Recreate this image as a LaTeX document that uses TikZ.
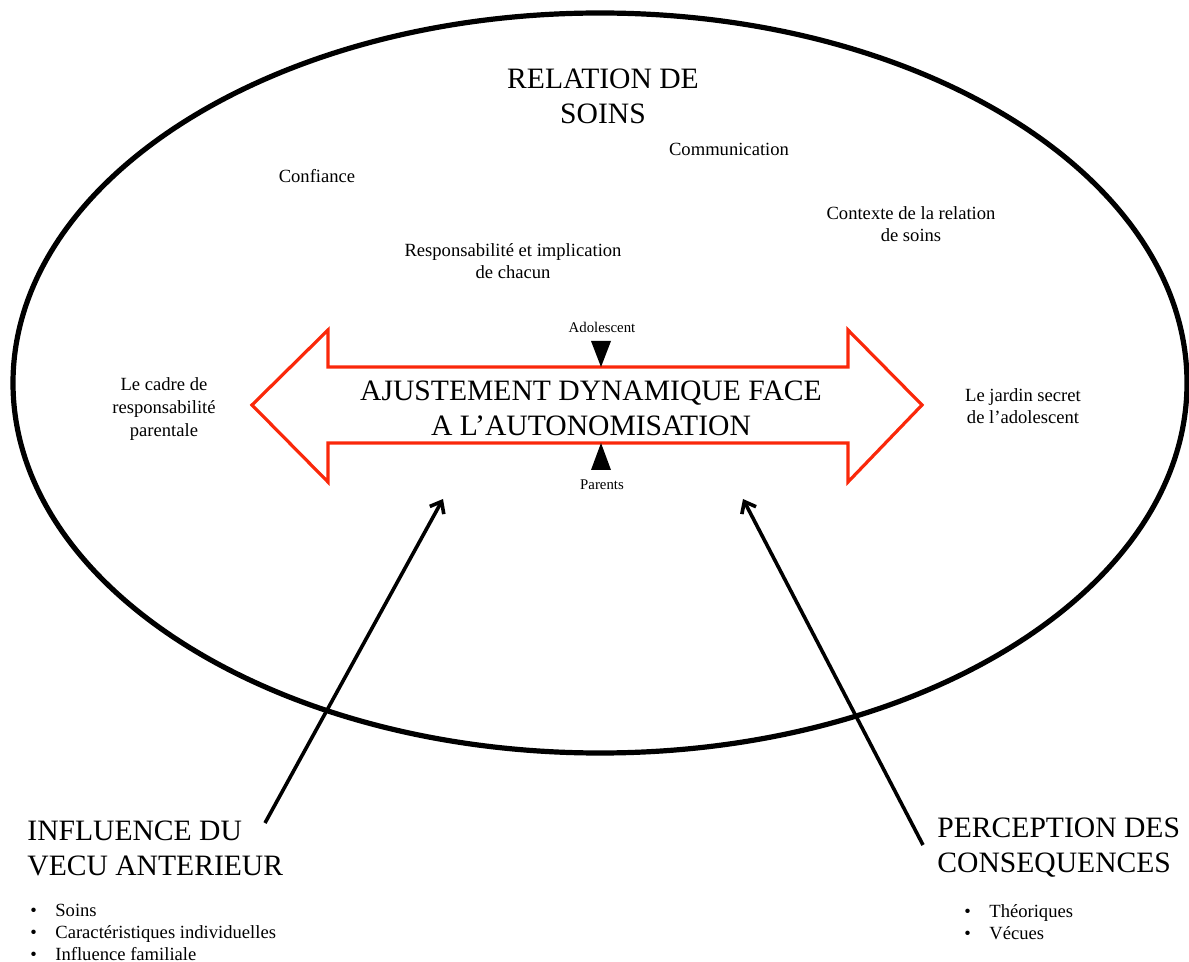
\documentclass[tikz,border=0pt]{standalone}
\usepackage{fontspec}
\setmainfont{Liberation Serif}
\usetikzlibrary{arrows.meta}
\definecolor{arrowred}{RGB}{250,40,10}
\tikzset{
  big/.style={font=\fontsize{14.8}{17.5}\selectfont, inner sep=0pt, align=center},
  small/.style={font=\fontsize{9.3}{11}\selectfont, inner sep=0pt, align=center},
  tiny/.style={font=\fontsize{7.4}{9}\selectfont, inner sep=0pt},
  ring/.style={line width=2.6pt},
  dblarrow/.style={draw=arrowred, line width=1.6pt, line join=miter},
  marker/.style={fill=black},
  influence/.style={line width=1.8pt, -{Straight Barb[length=5pt,width=8pt,line width=1.8pt]}},
}
\begin{document}
\begin{tikzpicture}[x=0.5pt,y=-0.5pt]
\useasboundingbox (0,0) rectangle (1189,962);
% outer ellipse
\draw[ring] (600,383) ellipse [x radius=587, y radius=370];
% texts inside ellipse
\node[big] (title) at (603,96) {RELATION DE\\SOINS};
\node[small] (comm) at (729,149) {Communication};
\node[small] (conf) at (317,176) {Confiance};
\node[small] (ctx) at (911,224) {Contexte de la relation\\de soins};
\node[small] (resp) at (513,261) {Responsabilit\'e et implication\\de chacun};
\node[small, font=\fontsize{9.3}{11.5}\selectfont] (cadre) at (164,409) {Le cadre de\\responsabilit\'e\\parentale};
\node[small] (jardin) at (1023,406) {Le jardin secret\\de l'adolescent};
% red double arrow
\draw[dblarrow] (252,405) -- (328,330) -- (328,367) -- (848,367) -- (848,330)
  -- (922,405) -- (848,482) -- (848,443) -- (328,443) -- (328,482) -- cycle;
\node[big] (ajust) at (591,408) {AJUSTEMENT DYNAMIQUE FACE\\A L'AUTONOMISATION};
% markers
\fill[marker] (591,341) -- (611,341) -- (601,367) -- cycle;
\fill[marker] (591,470) -- (611,470) -- (601,443) -- cycle;
\node[tiny] (ado) at (602,327) {Adolescent};
\node[tiny] (par) at (602,485) {Parents};
% bottom texts
\node[big, anchor=west, align=left] (infl) at (27,848) {INFLUENCE DU\\VECU ANTERIEUR};
\node[small, anchor=north west, align=left] (inflist) at (30,901)
  {\begin{tabular}{@{}p{25\dimexpr0.5pt}@{}l@{}}
   \textbullet & Soins\\
   \textbullet & Caract\'eristiques individuelles\\
   \textbullet & Influence familiale
   \end{tabular}};
\node[big, anchor=west, align=left] (perc) at (937,848) {PERCEPTION DES\\CONSEQUENCES};
\node[small, anchor=north west, align=left] (perclist) at (964,902)
  {\begin{tabular}{@{}p{25\dimexpr0.5pt}@{}l@{}}
   \textbullet & Th\'eoriques\\
   \textbullet & V\'ecues
   \end{tabular}};
% influence arrows
\coordinate (ls) at (265,823);
\coordinate (lt) at (443,499);
\coordinate (rs) at (923,845);
\coordinate (rt) at (743,499);
\draw[influence] (ls) -- (lt);
\draw[influence] (rs) -- (rt);
\end{tikzpicture}
\end{document}
